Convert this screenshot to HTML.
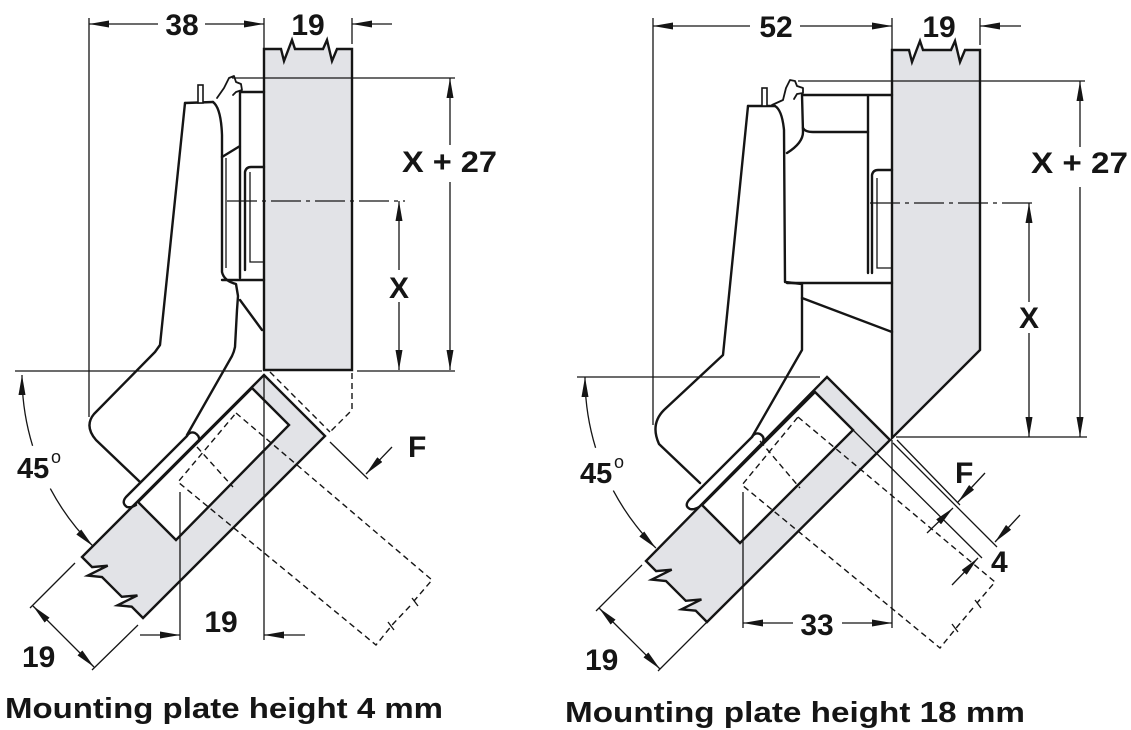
<!DOCTYPE html>
<html><head><meta charset="utf-8"><style>
html,body{margin:0;padding:0;background:#fff;}
svg{display:block;}
text{font-family:"Liberation Sans",Arial,sans-serif;font-weight:bold;fill:#151515;}
.t{stroke:#151515;stroke-width:1.3;fill:none;}
.k{stroke:#151515;stroke-width:2.4;fill:none;stroke-linejoin:round;stroke-linecap:round;}
.d{stroke:#151515;stroke-width:1.4;fill:none;stroke-dasharray:6 4;}
.g{fill:#e2e3e7;stroke:#151515;stroke-width:2.4;stroke-linejoin:miter;}
.w{fill:#fff;stroke:#151515;stroke-width:2.4;stroke-linejoin:miter;}
</style></head><body>
<svg width="1131" height="730" viewBox="0 0 1131 730" xmlns="http://www.w3.org/2000/svg">
<defs>
<marker id="ar" viewBox="0 0 20 7" refX="20" refY="3.5" markerWidth="20" markerHeight="7" markerUnits="userSpaceOnUse" orient="auto-start-reverse"><path d="M0,0 L20,3.5 L0,7 Z" fill="#151515"/></marker>
</defs>
<rect width="1131" height="730" fill="#fff"/>

<!-- ================= LEFT DIAGRAM ================= -->
<path class="g" d="M264,370 L264,49 L281,49 L284,61 L292,40 L295,49 L323,49 L327,40 L332,61 L337,49 L352,49 L352,370 Z"/>
<path class="g" d="M264,375 L325,436 L143,618 L131.7,606.7 L117.5,605.3 L137.4,595.4 L121.8,596.8 L102,577 L87.8,575.6 L107.7,565.7 L92.1,567.1 L82,557 Z"/>
<path class="w" d="M138,502 L252,388 L289,425 L176,540 Z"/>

<path class="t" d="M89,18 V417 M264,18 V49 M352,18 V44"/>
<path class="t" d="M158,24 H89" marker-end="url(#ar)"/>
<path class="t" d="M205,24 H264" marker-end="url(#ar)"/>
<path class="t" d="M392,24 H352" marker-end="url(#ar)"/>
<path class="t" d="M232,78 H455"/>
<path class="t" d="M450,145 V78" marker-end="url(#ar)"/>
<path class="t" d="M450,182 V370" marker-end="url(#ar)"/>
<path class="t" d="M227,201 H405" stroke-dasharray="30 5 4 5"/>
<path class="t" d="M399,270 V201" marker-end="url(#ar)"/>
<path class="t" d="M399,302 V370" marker-end="url(#ar)"/>
<path class="t" d="M15,371 H262 M357,371 H455"/>
<path class="t" d="M264,375 V640 M180,492 V640"/>
<path class="t" d="M140,635 H180" marker-end="url(#ar)"/>
<path class="t" d="M305,635 H264" marker-end="url(#ar)"/>
<path class="t" d="M75,563 L30,608 M138,625 L92,670"/>
<path class="t" d="M33,606 L94,667" marker-start="url(#ar)" marker-end="url(#ar)"/>
<path class="t" d="M330,442 L368,479"/>
<path class="t" d="M392,447 L366,474" marker-end="url(#ar)"/>
<path class="t" d="M32.6,445.8 A242,242 0 0 1 22,375" marker-end="url(#ar)"/>
<path class="t" d="M50.3,488.6 A242,242 0 0 0 92.9,546.1" marker-end="url(#ar)"/>

<path class="d" d="M352,373 V410 L329,433"/>
<path class="d" d="M270,372 L330,432"/>
<path class="d" d="M236,413 L432,580 L414,601"/>
<path class="d" d="M410,606 L393,624 L376,645 L178,482 L236,413"/>
<path class="d" d="M197,447 L233,487"/>
<path class="t" d="M412,598 L418,606 M388,622 L394,630"/>

<path class="k" d="M185,103 L160,345 L155,352 L94,414 Q84,426 96,440 L140,482"/>
<path class="k" d="M185,103 L213,102"/>
<path class="k" d="M213,102 Q221,108 222,135 L222,272 Q224,281 236,284 L238,296 L237,310 L235,347 Q234,352 232,356 L187,435"/>
<path class="k" d="M222,157 L240,146 M240,92 V278 M240,92 H264"/>
<path class="t" d="M226,158 V268"/>
<path class="k" d="M245,270 V172 Q246,167 251,167 H264"/>
<path class="t" d="M250,172 V262 H264"/>
<path class="k" d="M222,280 H264 M240,300 L262,330"/>
<rect x="198" y="85" width="5" height="18" fill="#fff" stroke="#151515" stroke-width="1.6"/>
<path class="k" style="stroke-width:1.8" d="M217,98 L224,88 L229,78 L234,76 L236,82 L241,84 L242,90 L236,92 L233,95"/>
<path class="k" d="M187,436 L126,497 Q121,503 127,507 Q131,508 136,505 M187,436 Q190,431 195,433 Q200,436 199,441"/>

<text x="182" y="35" text-anchor="middle" font-size="30">38</text>
<text x="308" y="35" text-anchor="middle" font-size="30">19</text>
<text x="402" y="172" font-size="30" textLength="95" lengthAdjust="spacingAndGlyphs">X + 27</text>
<text x="399" y="298" text-anchor="middle" font-size="30">X</text>
<text x="408" y="457" font-size="30">F</text>
<text x="17" y="478" font-size="29">45</text>
<text x="51" y="463" font-size="18" style="font-weight:normal">o</text>
<text x="22" y="667" font-size="30">19</text>
<text x="221" y="632" text-anchor="middle" font-size="30">19</text>
<text x="5" y="718" font-size="29" textLength="438" lengthAdjust="spacingAndGlyphs">Mounting plate height 4 mm</text>

<!-- ================= RIGHT DIAGRAM ================= -->
<path class="g" d="M892,438 L892,50 L909,50 L912,62 L920,41 L923,50 L951,50 L955,41 L960,62 L965,50 L980,50 L980,350 Z"/>
<path class="g" d="M827,377 L890,440 L707,622 L695.7,610.7 L681.5,609.3 L701.4,599.4 L685.8,600.8 L666,581 L651.8,579.6 L671.7,569.7 L656.1,571.1 L646,561 Z"/>
<path class="w" d="M702,505 L815,392 L853,430 L740,543 Z"/>

<path class="t" d="M653,18 V425 M892,18 V50 M980,18 V45"/>
<path class="t" d="M750,26 H653" marker-end="url(#ar)"/>
<path class="t" d="M800,26 H892" marker-end="url(#ar)"/>
<path class="t" d="M1021,26 H980" marker-end="url(#ar)"/>
<path class="t" d="M798,81 H1085"/>
<path class="t" d="M1080,147 V81" marker-end="url(#ar)"/>
<path class="t" d="M1080,187 V437" marker-end="url(#ar)"/>
<path class="t" d="M870,203 H1036" stroke-dasharray="30 5 4 5"/>
<path class="t" d="M1029,302 V203" marker-end="url(#ar)"/>
<path class="t" d="M1029,333 V437" marker-end="url(#ar)"/>
<path class="t" d="M896,437 H1087"/>
<path class="t" d="M577,377 H820"/>
<path class="t" d="M743,492 V628 M892,440 V628"/>
<path class="t" d="M793,623 H743" marker-end="url(#ar)"/>
<path class="t" d="M842,623 H892" marker-end="url(#ar)"/>
<path class="t" d="M642,565 L596,611 M707,622 L658,671"/>
<path class="t" d="M599,608 L660,669" marker-start="url(#ar)" marker-end="url(#ar)"/>
<path class="t" d="M853,430 L982,558 M893,443 L997,547 M897,440 L960,505"/>
<path class="t" d="M985,473 L958,502" marker-end="url(#ar)"/>
<path class="t" d="M927,533 L953,508" marker-end="url(#ar)"/>
<path class="t" d="M1020,515 L995,542" marker-end="url(#ar)"/>
<path class="t" d="M952,585 L978,558" marker-end="url(#ar)"/>
<path class="t" d="M595.6,447.8 A242,242 0 0 1 585,377" marker-end="url(#ar)"/>
<path class="t" d="M613.3,490.6 A242,242 0 0 0 655.9,548.1" marker-end="url(#ar)"/>

<path class="d" d="M798,417 L995,582 L977,603"/>
<path class="d" d="M973,608 L957,627 L940,648 L742,485 L798,417"/>
<path class="d" d="M760,441 L800,488"/>
<path class="t" d="M975,600 L981,608 M952,624 L958,632"/>

<path class="k" d="M748,106 L723,355 L664,410 Q650,424 659,444 L700,483"/>
<path class="k" d="M748,106 H775"/>
<path class="k" d="M775,106 Q782,110 784,130 L785,282 L802,284 L802,350 L752,437"/>
<path class="k" d="M802,95 L803,132 Q803,143 787,153 M802,95 L892,95 M868,95 V273"/>
<path class="k" d="M803,128 Q805,132 813,132 H868"/>
<path class="k" d="M872,273 V175 Q873,170 878,170 H892"/>
<path class="t" d="M877,178 V268 H892"/>
<path class="k" d="M787,283 H892 M802,298 L892,332"/>
<rect x="762" y="88" width="5" height="18" fill="#fff" stroke="#151515" stroke-width="1.6"/>
<path class="k" style="stroke-width:1.8" d="M772,105 L783,100 L786,88 L790,80 L795,81 L797,86 L803,88 L803,93 L797,94 L794,99"/>
<path class="k" d="M752,437 L689,500 Q684,506 690,509 Q694,510 699,507 M752,437 Q755,432 760,434 Q765,437 763,442"/>

<text x="776" y="37" text-anchor="middle" font-size="30">52</text>
<text x="939" y="37" text-anchor="middle" font-size="30">19</text>
<text x="1031" y="173" font-size="30" textLength="97" lengthAdjust="spacingAndGlyphs">X + 27</text>
<text x="1029" y="328" text-anchor="middle" font-size="30">X</text>
<text x="955" y="483" font-size="30">F</text>
<text x="991" y="572" font-size="30">4</text>
<text x="817" y="635" text-anchor="middle" font-size="30">33</text>
<text x="585" y="670" font-size="30">19</text>
<text x="580" y="483" font-size="29">45</text>
<text x="614" y="468" font-size="18" style="font-weight:normal">o</text>
<text x="565" y="722" font-size="29" textLength="460" lengthAdjust="spacingAndGlyphs">Mounting plate height 18 mm</text>
</svg>
</body></html>
